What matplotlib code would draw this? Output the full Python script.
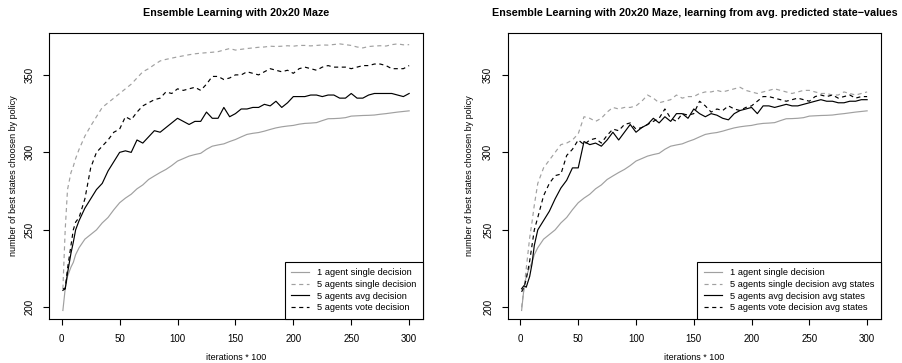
import matplotlib
matplotlib.use("Agg")
import matplotlib.pyplot as plt

plt.rcParams['font.family'] = ['Liberation Sans', 'DejaVu Sans']

# x positions (iterations * 100)
iters = [1, 3, 5, 8, 10, 12, 15] + list(range(20, 301, 5))

# 1 agent single decision (same run in both panels)
one_single = [198, 212, 220, 226, 229, 234, 238.5, 244, 247, 250, 254.5, 258, 263, 267.5,
              270.5, 273, 276.5, 279, 282.5, 284.8, 287, 289, 291.5, 294.4, 296, 297.6,
              298.6, 299.4, 302, 304, 304.8, 305.5, 307, 308.3, 310, 311.6, 312.3, 312.8,
              313.7, 314.8, 315.8, 316.5, 317, 317.4, 318.2, 318.7, 318.9, 319.2, 320.5,
              321.7, 321.8, 322, 322.4, 323.4, 323.6, 323.8, 323.9, 324.1, 324.6, 325,
              325.5, 326, 326.4, 326.8]

# left panel
five_single = [212, 250, 276, 287, 291, 296, 302, 310.5, 317, 323, 329, 332, 335, 338, 341,
               344, 348, 352, 354, 356.6, 359, 360, 360.8, 361.6, 362.3, 363, 363.6, 364,
               364.3, 364.6, 365, 366, 367, 366, 366.5, 367, 367.4, 367.8, 368, 368.5,
               368.3, 368.5, 368.8, 368.5, 369, 369, 368.7, 369, 369.3, 369.2, 369.6, 370,
               369.5, 369, 368, 367.4, 368.3, 368.6, 368.8, 368.6, 369.5, 370, 369.4, 369.5]
five_avg = [211, 212, 222, 235, 242, 250, 256, 264, 270, 276, 280, 288, 294, 300, 301, 300,
            308, 306, 310, 314, 313, 316, 319, 322, 320, 318, 320, 320, 326, 322, 322, 329,
            323, 325, 328, 328, 329, 329, 331, 330, 333, 329, 332, 336, 336, 336, 337, 337,
            336, 337, 337, 335, 335, 338, 335, 335, 337, 338, 338, 338, 338, 337, 336, 338]
five_vote = [212, 212, 225, 240, 250, 255, 258, 270, 290, 300, 304, 308, 313, 315, 323, 321,
             326, 330, 332, 334, 335, 339, 338, 341, 340, 341, 342, 340, 344, 349, 349, 347,
             348, 350, 350, 352, 351, 350, 352, 354, 353, 352, 353, 351, 354, 355, 354, 353,
             355, 356, 355, 355, 355, 354, 355, 356, 356, 357, 357, 356, 354, 354, 354, 356]

# right panel (learning from avg. predicted state-values)
five_single_avgst = [200, 212, 225, 245, 255, 266, 280, 290, 295, 300, 305, 306, 308, 312,
                     323, 322, 320, 322, 326, 329, 328, 329, 329, 330, 333, 337, 335, 332,
                     333, 334, 337, 335, 336, 336, 338, 339, 339, 340, 339, 340, 341, 342,
                     340, 339, 338, 339, 340, 341, 340, 339, 338, 339, 340, 340, 339, 338,
                     338, 337, 337, 339, 338, 337, 338, 339]
five_avg_avgst = [212, 214, 213, 220, 228, 240, 250, 256, 262, 270, 277, 282, 290, 290, 307,
                  305, 306, 304, 308, 313, 308, 313, 318, 313, 316, 318, 322, 319, 323, 320,
                  325, 325, 322, 328, 325, 323, 325, 324, 322, 321, 325, 327, 328, 329, 325,
                  330, 330, 329, 330, 331, 330, 330, 331, 332, 333, 334, 333, 333, 332, 332,
                  333, 333, 334, 334]
five_vote_avgst = [210, 213, 218, 230, 240, 250, 258, 272, 280, 285, 286, 298, 302, 308, 305,
                   308, 309, 306, 311, 315, 314, 318, 319, 315, 316, 318, 320, 322, 328, 322,
                   320, 325, 324, 325, 333, 330, 326, 328, 327, 330, 328, 327, 329, 330, 333,
                   336, 336, 335, 334, 333, 334, 335, 334, 333, 336, 337, 336, 337, 335, 336,
                   337, 335, 336, 336]

GREY = '#a0a0a0'
DASH = (0, (3.5, 3))

panels = [
    ("Ensemble Learning with 20x20 Maze",
     [(one_single, GREY, '-', "1 agent single decision"),
      (five_single, GREY, DASH, "5 agents single decision"),
      (five_avg, 'black', '-', "5 agents avg decision"),
      (five_vote, 'black', DASH, "5 agents vote decision")],
     [0.0543, 0.1212, 0.4147, 0.7878], -0.096),
    ("Ensemble Learning with 20x20 Maze, learning from avg. predicted state\u2212values",
     [(one_single, GREY, '-', "1 agent single decision"),
      (five_single_avgst, GREY, DASH, "5 agents single decision avg states"),
      (five_avg_avgst, 'black', '-', "5 agents avg decision avg states"),
      (five_vote_avgst, 'black', DASH, "5 agents vote decision avg states")],
     [0.5629, 0.1212, 0.4138, 0.7878], -0.103),
]

fig = plt.figure(figsize=(9.02, 3.63), dpi=100)

for title, series, rect, ylab_x in panels:
    ax = fig.add_axes(rect)
    for vals, col, ls, lab in series:
        ax.plot(iters, vals, color=col, linestyle=ls, linewidth=0.85, label=lab)
    ax.set_xlim(-11, 312)
    ax.set_ylim(192.5, 377)
    ax.set_xticks([0, 50, 100, 150, 200, 250, 300])
    ax.set_yticks([200, 250, 300, 350])
    ax.tick_params(direction='out', length=4.5, width=0.8, labelsize=7, pad=6)
    for lbl in ax.get_yticklabels():
        lbl.set_rotation(90)
        lbl.set_va('center')
    for s in ax.spines.values():
        s.set_linewidth(0.8)
    ax.set_title(title, fontsize=7.75, fontweight='bold', y=1.046, pad=3)
    ax.set_xlabel("iterations * 100", fontsize=6.5, va='center')
    ax.xaxis.set_label_coords(0.5, -0.135)
    ax.set_ylabel("number of best states choosen by policy", fontsize=6.5, va='center')
    ax.yaxis.set_label_coords(ylab_x, 0.5)
    leg = ax.legend(loc='lower right', borderaxespad=0, fancybox=False, framealpha=1,
                    edgecolor='black', fontsize=6.7, handlelength=1.95, handletextpad=0.85,
                    labelspacing=0.3, borderpad=0.7)
    leg.get_frame().set_linewidth(0.8)

fig.savefig("out.png", dpi=100)
